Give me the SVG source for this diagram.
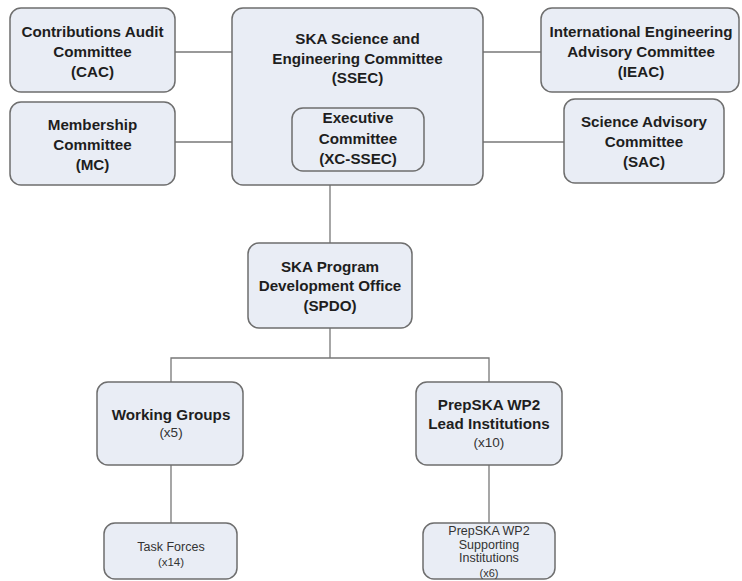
<svg xmlns="http://www.w3.org/2000/svg" width="742" height="581" viewBox="0 0 742 581">
<style>
.box{fill:#e9edf5;stroke:#6e6e6e;stroke-width:1.5}
.t{font-family:"Liberation Sans",Arial,sans-serif;font-size:15.2px;font-weight:bold;fill:#1e1e1e;text-anchor:middle}
.s{font-family:"Liberation Sans",Arial,sans-serif;font-size:12.5px;fill:#333;text-anchor:middle}
.c{fill:none;stroke:#777;stroke-width:1.3}
</style>
<rect width="742" height="581" fill="#fff"/>
<g id="connectors">
<line class="c" x1="175" y1="52" x2="232" y2="52"/>
<line class="c" x1="175" y1="142" x2="232" y2="142"/>
<line class="c" x1="483" y1="52" x2="541" y2="52"/>
<line class="c" x1="483" y1="142" x2="564" y2="142"/>
<line class="c" x1="330" y1="185" x2="330" y2="243"/>
<polyline class="c" points="330,328 330,358"/>
<polyline class="c" points="171,382 171,358 489,358 489,382"/>
<line class="c" x1="171" y1="465" x2="171" y2="523"/>
<line class="c" x1="489" y1="465" x2="489" y2="523"/>
</g>
<g id="cac"><rect class="box" x="10" y="8" width="165" height="84" rx="11"/>
<text class="t" x="92.5" y="37">Contributions Audit</text><text class="t" x="92.5" y="57">Committee</text><text class="t" x="92.5" y="77">(CAC)</text></g>
<g id="mc"><rect class="box" x="10" y="102" width="165" height="83" rx="11"/>
<text class="t" x="92.5" y="130">Membership</text><text class="t" x="92.5" y="150">Committee</text><text class="t" x="92.5" y="170">(MC)</text></g>
<g id="ssec"><rect class="box" x="232" y="8" width="251" height="177" rx="11"/>
<text class="t" x="357.5" y="44">SKA Science and</text><text class="t" x="357.5" y="64">Engineering Committee</text><text class="t" x="357.5" y="83">(SSEC)</text></g>
<g id="xc"><rect class="box" x="292" y="108" width="132" height="63" rx="11"/>
<text class="t" x="358" y="123">Executive</text><text class="t" x="358" y="144">Committee</text><text class="t" x="358" y="164">(XC-SSEC)</text></g>
<g id="ieac"><rect class="box" x="541" y="8" width="198" height="84" rx="11"/>
<text class="t" x="641" y="37">International Engineering</text><text class="t" x="641" y="57">Advisory Committee</text><text class="t" x="641" y="77">(IEAC)</text></g>
<g id="sac"><rect class="box" x="564" y="99" width="160" height="84" rx="11"/>
<text class="t" x="644" y="127">Science Advisory</text><text class="t" x="644" y="147">Committee</text><text class="t" x="644" y="167">(SAC)</text></g>
<g id="spdo"><rect class="box" x="248" y="243" width="164" height="85" rx="11"/>
<text class="t" x="330" y="272">SKA Program</text><text class="t" x="330" y="291">Development Office</text><text class="t" x="330" y="311">(SPDO)</text></g>
<g id="wg"><rect class="box" x="97" y="382" width="146" height="83" rx="11"/>
<text class="t" x="171" y="420">Working Groups</text><text class="s" x="171" y="437" style="font-size:13.5px">(x5)</text></g>
<g id="lead"><rect class="box" x="416" y="382" width="146" height="83" rx="11"/>
<text class="t" x="489" y="410">PrepSKA WP2</text><text class="t" x="489" y="429">Lead Institutions</text><text class="s" x="489" y="447" style="font-size:13.5px">(x10)</text></g>
<g id="tf"><rect class="box" x="104" y="523" width="133" height="56" rx="11"/>
<text class="s" x="171" y="551">Task Forces</text><text class="s" x="171" y="566" style="font-size:11.5px">(x14)</text></g>
<g id="sup"><rect class="box" x="423" y="523" width="132" height="56" rx="11"/>
<text class="s" x="489" y="535">PrepSKA WP2</text><text class="s" x="489" y="549">Supporting</text><text class="s" x="489" y="562">Institutions</text><text class="s" x="489" y="577" style="font-size:11px">(x6)</text></g>
</svg>
